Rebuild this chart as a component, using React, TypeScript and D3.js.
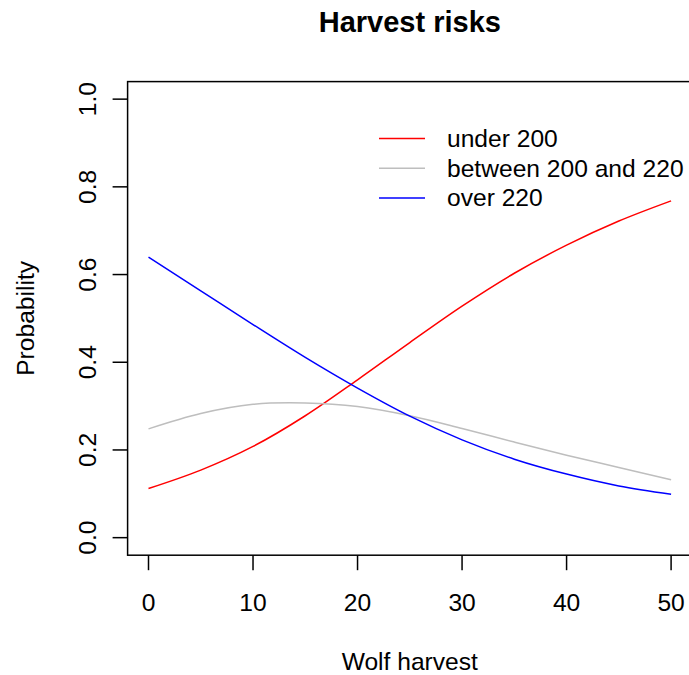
import React from "react";
import * as d3 from "d3";

const harvest = [0, 5, 10, 15, 20, 25, 30, 35, 40, 45, 50];
const under200 = [0.112, 0.154, 0.208, 0.278, 0.36, 0.445, 0.528, 0.603, 0.667, 0.722, 0.768];
const between200and220 = [0.248, 0.283, 0.304, 0.307, 0.299, 0.278, 0.249, 0.218, 0.188, 0.16, 0.132];
const over220 = [0.64, 0.563, 0.486, 0.411, 0.341, 0.277, 0.223, 0.179, 0.145, 0.118, 0.099];
const xTicks = [0, 10, 20, 30, 40, 50];
const yTicks = [0, 0.2, 0.4, 0.6, 0.8, 1.0];
const seriesNames = ["under 200", "between 200 and 220", "over 220"];
const seriesColors = ["#FF0000", "#BEBEBE", "#0000FF"];

const W = 689;
const H = 675;
const FONT = "Liberation Sans, Arial, Helvetica, sans-serif";

export default function App() {
  const x = d3.scaleLinear().domain([-2, 52]).range([127.6, 692]);
  const y = d3.scaleLinear().domain([-0.04, 1.04]).range([555.2, 81.6]);
  const series = [under200, between200and220, over220];
  const line = d3
    .line<number>()
    .x((_, i) => x(harvest[i]))
    .y((d) => y(d))
    .curve(d3.curveCatmullRom.alpha(0.5));
  const fs = 24.6;
  const tick = 15;
  const [x0, x1] = x.range();
  const [y0, y1] = y.range();
  return (
    <svg width={W} height={H} style={{ display: "block", position: "absolute", left: 0, top: 0 }} fontFamily={FONT}>
      <rect width={W} height={H} fill="white" />
      <text x={(x0 + x1) / 2} y={22} textAnchor="middle" dominantBaseline="central" fontWeight="bold" fontSize={29}>
        Harvest risks
      </text>
      {series.map((s, i) => (
        <path key={i} d={line(s) || ""} fill="none" stroke={seriesColors[i]} strokeWidth={1.5} />
      ))}
      <rect x={x0} y={y1} width={x1 - x0} height={y0 - y1} fill="none" stroke="black" strokeWidth={1.5} />
      {xTicks.map((t) => (
        <g key={t}>
          <line x1={x(t)} x2={x(t)} y1={y0} y2={y0 + tick} stroke="black" strokeWidth={1.5} />
          <text x={x(t)} y={602} textAnchor="middle" dominantBaseline="central" fontSize={fs}>
            {t}
          </text>
        </g>
      ))}
      {yTicks.map((t) => (
        <g key={t}>
          <line x1={x0} x2={x0 - tick} y1={y(t)} y2={y(t)} stroke="black" strokeWidth={1.5} />
          <text
            transform={`translate(${87},${y(t)}) rotate(-90)`}
            textAnchor="middle"
            dominantBaseline="central"
            fontSize={fs}
          >
            {t.toFixed(1)}
          </text>
        </g>
      ))}
      <text x={(x0 + x1) / 2} y={661} textAnchor="middle" dominantBaseline="central" fontSize={fs}>
        Wolf harvest
      </text>
      <text
        transform={`translate(${25},${(y0 + y1) / 2}) rotate(-90)`}
        textAnchor="middle"
        dominantBaseline="central"
        fontSize={fs}
      >
        Probability
      </text>
      {seriesNames.map((n, i) => {
        const ly = 138.5 + i * 29.7;
        return (
          <g key={n}>
            <line x1={379} x2={425} y1={ly} y2={ly} stroke={seriesColors[i]} strokeWidth={1.5} />
            <text x={447} y={ly} dominantBaseline="central" fontSize={fs}>
              {n}
            </text>
          </g>
        );
      })}
    </svg>
  );
}
